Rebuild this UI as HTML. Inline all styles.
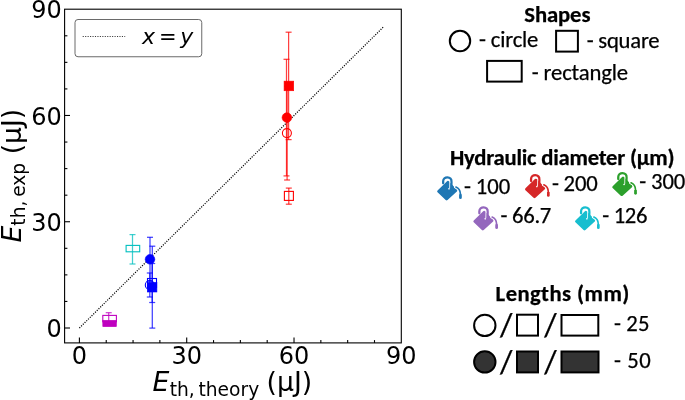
<!DOCTYPE html>
<html><head><meta charset="utf-8"><style>
html,body{margin:0;padding:0;background:#fff;}
svg{display:block;}
.dj{font-family:"DejaVu Sans", "Liberation Sans", sans-serif;}
.cal{font-family:Carlito, "Liberation Sans", sans-serif;font-size-adjust:0.4775;}
.cal .b{font-size-adjust:0.4849;}
</style></head><body>
<svg width="685" height="400" viewBox="0 0 685 400">
<rect width="685" height="400" fill="#fff"/>
<!-- x=y line -->
<line x1="79.40" y1="328.00" x2="383.45" y2="26.93" stroke="#000" stroke-width="1.25" stroke-dasharray="1.1 1.35"/>
<!-- error bars -->
<g stroke-width="1.25" stroke-opacity="0.75">
<line x1="288.60" y1="32.20" x2="288.60" y2="139.60" stroke="#ff0000"/><line x1="285.60" y1="32.20" x2="291.60" y2="32.20" stroke="#ff0000"/><line x1="285.60" y1="139.60" x2="291.60" y2="139.60" stroke="#ff0000"/><line x1="286.50" y1="59.30" x2="286.50" y2="175.90" stroke="#ff0000"/><line x1="283.50" y1="59.30" x2="289.50" y2="59.30" stroke="#ff0000"/><line x1="283.50" y1="175.90" x2="289.50" y2="175.90" stroke="#ff0000"/><line x1="287.10" y1="86.20" x2="287.10" y2="180.00" stroke="#ff0000"/><line x1="284.10" y1="86.20" x2="290.10" y2="86.20" stroke="#ff0000"/><line x1="284.10" y1="180.00" x2="290.10" y2="180.00" stroke="#ff0000"/><line x1="288.80" y1="188.10" x2="288.80" y2="204.20" stroke="#ff0000"/><line x1="285.80" y1="188.10" x2="291.80" y2="188.10" stroke="#ff0000"/><line x1="285.80" y1="204.20" x2="291.80" y2="204.20" stroke="#ff0000"/><line x1="150.00" y1="237.30" x2="150.00" y2="281.30" stroke="#0000ff"/><line x1="147.00" y1="237.30" x2="153.00" y2="237.30" stroke="#0000ff"/><line x1="147.00" y1="281.30" x2="153.00" y2="281.30" stroke="#0000ff"/><line x1="152.30" y1="246.20" x2="152.30" y2="328.10" stroke="#0000ff"/><line x1="149.30" y1="246.20" x2="155.30" y2="246.20" stroke="#0000ff"/><line x1="149.30" y1="328.10" x2="155.30" y2="328.10" stroke="#0000ff"/><line x1="149.80" y1="273.00" x2="149.80" y2="297.00" stroke="#0000ff"/><line x1="146.80" y1="273.00" x2="152.80" y2="273.00" stroke="#0000ff"/><line x1="146.80" y1="297.00" x2="152.80" y2="297.00" stroke="#0000ff"/><line x1="152.20" y1="263.50" x2="152.20" y2="302.50" stroke="#0000ff"/><line x1="149.20" y1="263.50" x2="155.20" y2="263.50" stroke="#0000ff"/><line x1="149.20" y1="302.50" x2="155.20" y2="302.50" stroke="#0000ff"/><line x1="132.50" y1="234.60" x2="132.50" y2="264.00" stroke="#00bfbf"/><line x1="129.50" y1="234.60" x2="135.50" y2="234.60" stroke="#00bfbf"/><line x1="129.50" y1="264.00" x2="135.50" y2="264.00" stroke="#00bfbf"/><line x1="108.70" y1="312.70" x2="108.70" y2="324.50" stroke="#bf00bf"/><line x1="105.70" y1="312.70" x2="111.70" y2="312.70" stroke="#bf00bf"/><line x1="105.70" y1="324.50" x2="111.70" y2="324.50" stroke="#bf00bf"/>
</g>
<!-- markers -->
<rect x="284.10" y="81.15" width="9.6" height="9.6" fill="#ff0000" stroke="#ff0000" stroke-width="0.6"/><circle cx="286.9" cy="117.6" r="4.8" fill="#ff0000" stroke="#ff0000" stroke-width="0.6"/><circle cx="286.9" cy="133.1" r="4.5" fill="none" stroke="#ff0000" stroke-width="1.1"/><rect x="284.40" y="191.40" width="9.0" height="9.0" fill="none" stroke="#ff0000" stroke-width="1.1"/><circle cx="150.0" cy="259.3" r="4.8" fill="#0000ff" stroke="#0000ff" stroke-width="0.6"/><rect x="147.30" y="282.40" width="9.6" height="9.6" fill="#0000ff" stroke="#0000ff" stroke-width="0.6"/><circle cx="149.8" cy="285.0" r="4.5" fill="none" stroke="#0000ff" stroke-width="1.1"/><rect x="147.50" y="278.50" width="9.0" height="9.0" fill="none" stroke="#0000ff" stroke-width="1.1"/><rect x="126.10" y="245.40" width="13.6" height="6.4" fill="none" stroke="#00bfbf" stroke-width="1.1"/><rect x="102.80" y="315.40" width="13.6" height="6.4" fill="none" stroke="#bf00bf" stroke-width="1.1"/><rect x="102.80" y="320.30" width="13.6" height="6.4" fill="#bf00bf" stroke="#bf00bf" stroke-width="0.6"/>
<!-- frame -->
<rect x="64.6" y="9.2" width="336.70" height="333.70" fill="none" stroke="#000" stroke-width="1.1"/>
<g stroke="#000" stroke-width="1.1"><line x1="79.40" y1="342.9" x2="79.40" y2="337.50"/><line x1="64.6" y1="328.00" x2="70.00" y2="328.00"/><line x1="186.71" y1="342.9" x2="186.71" y2="337.50"/><line x1="64.6" y1="221.74" x2="70.00" y2="221.74"/><line x1="294.02" y1="342.9" x2="294.02" y2="337.50"/><line x1="64.6" y1="115.48" x2="70.00" y2="115.48"/><line x1="106.23" y1="342.9" x2="106.23" y2="340.10"/><line x1="64.6" y1="301.44" x2="67.40" y2="301.44"/><line x1="133.06" y1="342.9" x2="133.06" y2="340.10"/><line x1="64.6" y1="274.87" x2="67.40" y2="274.87"/><line x1="159.88" y1="342.9" x2="159.88" y2="340.10"/><line x1="64.6" y1="248.31" x2="67.40" y2="248.31"/><line x1="213.54" y1="342.9" x2="213.54" y2="340.10"/><line x1="64.6" y1="195.18" x2="67.40" y2="195.18"/><line x1="240.37" y1="342.9" x2="240.37" y2="340.10"/><line x1="64.6" y1="168.61" x2="67.40" y2="168.61"/><line x1="267.19" y1="342.9" x2="267.19" y2="340.10"/><line x1="64.6" y1="142.05" x2="67.40" y2="142.05"/><line x1="320.85" y1="342.9" x2="320.85" y2="340.10"/><line x1="64.6" y1="88.92" x2="67.40" y2="88.92"/><line x1="347.67" y1="342.9" x2="347.67" y2="340.10"/><line x1="64.6" y1="62.35" x2="67.40" y2="62.35"/><line x1="374.50" y1="342.9" x2="374.50" y2="340.10"/><line x1="64.6" y1="35.79" x2="67.40" y2="35.79"/></g>
<!-- tick labels -->
<g class="dj" font-size="24" fill="#000">
<text x="61.8" y="18.4" text-anchor="end">90</text>
<text x="61.8" y="124.7" text-anchor="end">60</text>
<text x="61.8" y="231.0" text-anchor="end">30</text>
<text x="61.8" y="337.3" text-anchor="end">0</text>
<text x="79.40" y="363.6" text-anchor="middle">0</text>
<text x="186.71" y="363.6" text-anchor="middle">30</text>
<text x="294.02" y="363.6" text-anchor="middle">60</text>
<text x="401.33" y="363.6" text-anchor="middle">90</text>
</g>
<!-- axis labels -->
<g class="dj" fill="#000">
<text x="152.5" y="391.4" font-size="26.67" font-style="italic">E</text><text x="169.7" y="396.0" font-size="18.67">th,&#8201;theory</text><text x="266.6" y="391.3" font-size="26.67">(µJ)</text>
<text transform="translate(20.7,242.5) rotate(-90)" font-size="26.67"><tspan font-style="italic">E</tspan><tspan font-size="18.67" dy="4.6">th,&#8201;exp</tspan><tspan dy="-4.6"> (µJ)</tspan></text>
</g>
<!-- legend -->
<rect x="75.0" y="19.5" width="126.75" height="37.25" rx="3" fill="#fff" stroke="#6a6a6a" stroke-width="1"/>
<line x1="82.7" y1="36.5" x2="125.2" y2="36.5" stroke="#222" stroke-width="0.9" stroke-dasharray="1.1 1.35"/>
<g class="dj" font-size="22.67"><text x="142.0" y="44.2" font-style="italic" font-size="22">x</text><text x="159.05" y="44" font-size="21">=</text><text x="180.2" y="44.2" font-style="italic" font-size="22">y</text></g>

<!-- right legend -->
<g class="cal" fill="#000" font-size="22.67" stroke="#000" stroke-width="0.25">
<text x="524.3" y="21.9" font-weight="bold" class="b" textLength="66.16" lengthAdjust="spacing">Shapes</text>
<circle cx="460" cy="41" r="10.2" fill="none" stroke="#000" stroke-width="2"/>
<text x="479.1" y="47.3" textLength="59.27" lengthAdjust="spacing">- circle</text>
<rect x="556.1" y="30.8" width="21.8" height="20.8" fill="none" stroke="#000" stroke-width="2"/>
<text x="586.7" y="47.6" textLength="72.85" lengthAdjust="spacing">- square</text>
<rect x="487.1" y="60.9" width="34.6" height="20.7" fill="none" stroke="#000" stroke-width="2"/>
<text x="531.8" y="79.8" textLength="96.22" lengthAdjust="spacing">- rectangle</text>

<text x="449.9" y="164.9" font-weight="bold" class="b" textLength="224.72" lengthAdjust="spacing">Hydraulic diameter (µm)</text>
<text x="464.0" y="193.8" textLength="46.12" lengthAdjust="spacing">- 100</text>
<text x="552.0" y="191.3" textLength="45.62" lengthAdjust="spacing">- 200</text>
<text x="639.2" y="189.3" textLength="46.12" lengthAdjust="spacing">- 300</text>
<text x="500.5" y="223.1" textLength="50.83" lengthAdjust="spacing">- 66.7</text>
<text x="602.2" y="223.1" textLength="45.32" lengthAdjust="spacing">- 126</text>

<text x="495.6" y="301.4" font-weight="bold" class="b" textLength="133.77" lengthAdjust="spacing">Lengths (mm)</text>
<circle cx="484.8" cy="325.4" r="10.7" fill="none" stroke="#000" stroke-width="2"/>
<rect x="517" y="314.7" width="21" height="20.9" fill="none" stroke="#000" stroke-width="2"/>
<rect x="561.5" y="315" width="36.8" height="20.6" fill="none" stroke="#000" stroke-width="2"/>
<text x="500" y="336.2" font-size="32">/</text>
<text x="544.2" y="336.2" font-size="32">/</text>
<text x="614.1" y="331.4" textLength="35.33" lengthAdjust="spacing">- 25</text>
<circle cx="484.8" cy="361.9" r="10.7" fill="#333" stroke="#000" stroke-width="2"/>
<rect x="517" y="351.5" width="21" height="20.9" fill="#333" stroke="#000" stroke-width="2"/>
<rect x="561.5" y="351.5" width="37" height="20.9" fill="#333" stroke="#000" stroke-width="2"/>
<text x="500" y="373.3" font-size="32">/</text>
<text x="544.2" y="373.3" font-size="32">/</text>
<text x="614.1" y="368.1" textLength="36.53" lengthAdjust="spacing">- 50</text>
</g>
<g transform="translate(436.30,175.60) scale(1.04) translate(-436.3,-175.6)">
<path d="M437.5 189.9 L446.6 181.1 Q447.5 180.2 448.4 181.1 L456.1 189.1 Q457.0 190.0 456.1 190.9 L447.1 199.0 Q446.2 199.9 445.3 199.0 L437.5 191.7 Q436.6 190.8 437.5 189.9 Z" fill="#1f77b4"/>
<path d="M443.8 183.2 C443.4 182.0 443.8 181.6 444.6 180.8" fill="none" stroke="#fff" stroke-width="1.0"/>
<path d="M442.9 183.0 L442.9 181.0 C442.9 178.7 444.8 177.3 447.0 177.3 C449.4 177.3 451.1 179.0 450.9 181.6 L450.7 187.6 C450.5 189.6 448.6 190.2 447.6 189.2" fill="none" stroke="#1f77b4" stroke-width="2.2" stroke-linecap="round"/>
<path d="M449.2 181.9 L449.1 187.4" fill="none" stroke="#fff" stroke-width="0.8" stroke-linecap="round"/>
<circle cx="448.5" cy="188.3" r="0.8" fill="#fff"/>
<path d="M455.0 186.4 C457.6 187.4 459.5 189.8 459.6 193.4 L459.5 196.6" fill="none" stroke="#fff" stroke-width="3.4" stroke-linecap="round"/>
<path d="M455.2 186.6 C457.7 187.6 459.4 189.9 459.5 193.4 L459.5 196.4" fill="none" stroke="#1f77b4" stroke-width="1.6" stroke-linecap="round"/>
<path d="M458.3 193.5 L460.7 193.5 L460.8 196.8 A1.3 1.3 0 0 1 458.2 196.8 Z" fill="#1f77b4"/>
</g><g transform="translate(524.20,173.40) scale(1.04) translate(-436.3,-175.6)">
<path d="M437.5 189.9 L446.6 181.1 Q447.5 180.2 448.4 181.1 L456.1 189.1 Q457.0 190.0 456.1 190.9 L447.1 199.0 Q446.2 199.9 445.3 199.0 L437.5 191.7 Q436.6 190.8 437.5 189.9 Z" fill="#d62728"/>
<path d="M443.8 183.2 C443.4 182.0 443.8 181.6 444.6 180.8" fill="none" stroke="#fff" stroke-width="1.0"/>
<path d="M442.9 183.0 L442.9 181.0 C442.9 178.7 444.8 177.3 447.0 177.3 C449.4 177.3 451.1 179.0 450.9 181.6 L450.7 187.6 C450.5 189.6 448.6 190.2 447.6 189.2" fill="none" stroke="#d62728" stroke-width="2.2" stroke-linecap="round"/>
<path d="M449.2 181.9 L449.1 187.4" fill="none" stroke="#fff" stroke-width="0.8" stroke-linecap="round"/>
<circle cx="448.5" cy="188.3" r="0.8" fill="#fff"/>
<path d="M455.0 186.4 C457.6 187.4 459.5 189.8 459.6 193.4 L459.5 196.6" fill="none" stroke="#fff" stroke-width="3.4" stroke-linecap="round"/>
<path d="M455.2 186.6 C457.7 187.6 459.4 189.9 459.5 193.4 L459.5 196.4" fill="none" stroke="#d62728" stroke-width="1.6" stroke-linecap="round"/>
<path d="M458.3 193.5 L460.7 193.5 L460.8 196.8 A1.3 1.3 0 0 1 458.2 196.8 Z" fill="#d62728"/>
</g><g transform="translate(611.40,171.30) scale(1.04) translate(-436.3,-175.6)">
<path d="M437.5 189.9 L446.6 181.1 Q447.5 180.2 448.4 181.1 L456.1 189.1 Q457.0 190.0 456.1 190.9 L447.1 199.0 Q446.2 199.9 445.3 199.0 L437.5 191.7 Q436.6 190.8 437.5 189.9 Z" fill="#2ca02c"/>
<path d="M443.8 183.2 C443.4 182.0 443.8 181.6 444.6 180.8" fill="none" stroke="#fff" stroke-width="1.0"/>
<path d="M442.9 183.0 L442.9 181.0 C442.9 178.7 444.8 177.3 447.0 177.3 C449.4 177.3 451.1 179.0 450.9 181.6 L450.7 187.6 C450.5 189.6 448.6 190.2 447.6 189.2" fill="none" stroke="#2ca02c" stroke-width="2.2" stroke-linecap="round"/>
<path d="M449.2 181.9 L449.1 187.4" fill="none" stroke="#fff" stroke-width="0.8" stroke-linecap="round"/>
<circle cx="448.5" cy="188.3" r="0.8" fill="#fff"/>
<path d="M455.0 186.4 C457.6 187.4 459.5 189.8 459.6 193.4 L459.5 196.6" fill="none" stroke="#fff" stroke-width="3.4" stroke-linecap="round"/>
<path d="M455.2 186.6 C457.7 187.6 459.4 189.9 459.5 193.4 L459.5 196.4" fill="none" stroke="#2ca02c" stroke-width="1.6" stroke-linecap="round"/>
<path d="M458.3 193.5 L460.7 193.5 L460.8 196.8 A1.3 1.3 0 0 1 458.2 196.8 Z" fill="#2ca02c"/>
</g><g transform="translate(472.50,205.60) scale(1.04) translate(-436.3,-175.6)">
<path d="M437.5 189.9 L446.6 181.1 Q447.5 180.2 448.4 181.1 L456.1 189.1 Q457.0 190.0 456.1 190.9 L447.1 199.0 Q446.2 199.9 445.3 199.0 L437.5 191.7 Q436.6 190.8 437.5 189.9 Z" fill="#9467bd"/>
<path d="M443.8 183.2 C443.4 182.0 443.8 181.6 444.6 180.8" fill="none" stroke="#fff" stroke-width="1.0"/>
<path d="M442.9 183.0 L442.9 181.0 C442.9 178.7 444.8 177.3 447.0 177.3 C449.4 177.3 451.1 179.0 450.9 181.6 L450.7 187.6 C450.5 189.6 448.6 190.2 447.6 189.2" fill="none" stroke="#9467bd" stroke-width="2.2" stroke-linecap="round"/>
<path d="M449.2 181.9 L449.1 187.4" fill="none" stroke="#fff" stroke-width="0.8" stroke-linecap="round"/>
<circle cx="448.5" cy="188.3" r="0.8" fill="#fff"/>
<path d="M455.0 186.4 C457.6 187.4 459.5 189.8 459.6 193.4 L459.5 196.6" fill="none" stroke="#fff" stroke-width="3.4" stroke-linecap="round"/>
<path d="M455.2 186.6 C457.7 187.6 459.4 189.9 459.5 193.4 L459.5 196.4" fill="none" stroke="#9467bd" stroke-width="1.6" stroke-linecap="round"/>
<path d="M458.3 193.5 L460.7 193.5 L460.8 196.8 A1.3 1.3 0 0 1 458.2 196.8 Z" fill="#9467bd"/>
</g><g transform="translate(574.20,205.60) scale(1.04) translate(-436.3,-175.6)">
<path d="M437.5 189.9 L446.6 181.1 Q447.5 180.2 448.4 181.1 L456.1 189.1 Q457.0 190.0 456.1 190.9 L447.1 199.0 Q446.2 199.9 445.3 199.0 L437.5 191.7 Q436.6 190.8 437.5 189.9 Z" fill="#17becf"/>
<path d="M443.8 183.2 C443.4 182.0 443.8 181.6 444.6 180.8" fill="none" stroke="#fff" stroke-width="1.0"/>
<path d="M442.9 183.0 L442.9 181.0 C442.9 178.7 444.8 177.3 447.0 177.3 C449.4 177.3 451.1 179.0 450.9 181.6 L450.7 187.6 C450.5 189.6 448.6 190.2 447.6 189.2" fill="none" stroke="#17becf" stroke-width="2.2" stroke-linecap="round"/>
<path d="M449.2 181.9 L449.1 187.4" fill="none" stroke="#fff" stroke-width="0.8" stroke-linecap="round"/>
<circle cx="448.5" cy="188.3" r="0.8" fill="#fff"/>
<path d="M455.0 186.4 C457.6 187.4 459.5 189.8 459.6 193.4 L459.5 196.6" fill="none" stroke="#fff" stroke-width="3.4" stroke-linecap="round"/>
<path d="M455.2 186.6 C457.7 187.6 459.4 189.9 459.5 193.4 L459.5 196.4" fill="none" stroke="#17becf" stroke-width="1.6" stroke-linecap="round"/>
<path d="M458.3 193.5 L460.7 193.5 L460.8 196.8 A1.3 1.3 0 0 1 458.2 196.8 Z" fill="#17becf"/>
</g>
</svg>
</body></html>
